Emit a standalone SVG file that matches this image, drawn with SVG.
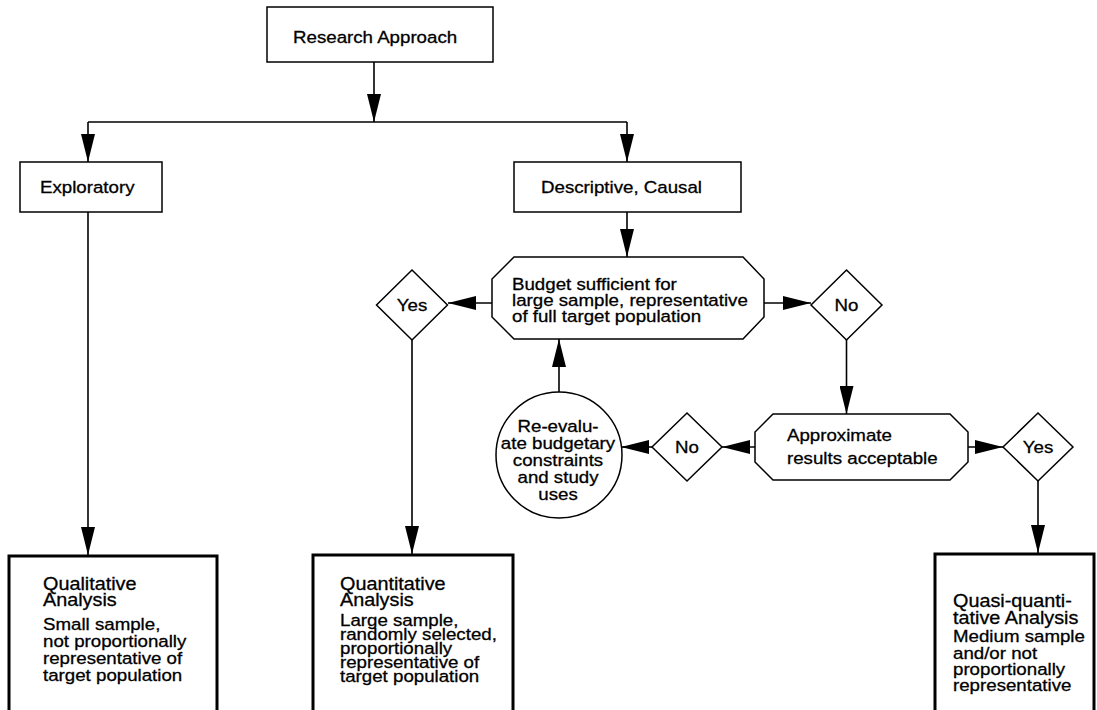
<svg xmlns="http://www.w3.org/2000/svg" width="1097" height="710" viewBox="0 0 1097 710">
<style>
.bg{fill:#fff}
.box{fill:#fff;stroke:#000;stroke-width:1.5}
.res{fill:#fff;stroke:#000;stroke-width:3}
.t{font-family:"Liberation Sans",Arial,Helvetica,sans-serif;font-size:17px;fill:#000;stroke:#000;stroke-width:0.3px}
.h{font-size:18px}
.c{text-anchor:middle}
.ln{fill:none;stroke:#000;stroke-width:1.6}
</style>
<defs>
<marker id="ah" markerUnits="userSpaceOnUse" markerWidth="28" markerHeight="14" viewBox="0 0 28 14" refX="28" refY="7" orient="auto">
<path d="M0,0 L28,7 L0,14 Z" fill="#000"/>
</marker>
</defs>
<rect class="bg" x="0" y="0" width="1097" height="710"/>

<g id="connectors">
<line class="ln" x1="374" y1="62" x2="374" y2="122" marker-end="url(#ah)"/>
<line class="ln" x1="88" y1="122" x2="627" y2="122"/>
<line class="ln" x1="88" y1="122" x2="88" y2="162" marker-end="url(#ah)"/>
<line class="ln" x1="627" y1="122" x2="627" y2="162" marker-end="url(#ah)"/>
<line class="ln" x1="627" y1="212" x2="627" y2="257" marker-end="url(#ah)"/>
<line class="ln" x1="88" y1="212" x2="88" y2="555" marker-end="url(#ah)"/>
<line class="ln" x1="492" y1="303" x2="448" y2="303" marker-end="url(#ah)"/>
<line class="ln" x1="764" y1="303" x2="811" y2="303" marker-end="url(#ah)"/>
<line class="ln" x1="412" y1="339" x2="412" y2="554" marker-end="url(#ah)"/>
<line class="ln" x1="846.5" y1="339" x2="846.5" y2="414" marker-end="url(#ah)"/>
<line class="ln" x1="559" y1="392" x2="559" y2="339" marker-end="url(#ah)"/>
<line class="ln" x1="755" y1="447" x2="722" y2="447" marker-end="url(#ah)"/>
<line class="ln" x1="652" y1="447" x2="621" y2="447" marker-end="url(#ah)"/>
<line class="ln" x1="968" y1="447" x2="1003" y2="447" marker-end="url(#ah)"/>
<line class="ln" x1="1038" y1="481" x2="1038" y2="553" marker-end="url(#ah)"/>
</g>

<g id="research-approach">
<rect class="box" x="267" y="7" width="226" height="55"/>
<g transform="translate(293 0) scale(1.1 1)"><text class="t" x="0" y="43">Research Approach</text></g>
</g>

<g id="exploratory">
<rect class="box" x="20" y="162" width="142" height="50"/>
<g transform="translate(40 0) scale(1.1 1)"><text class="t" x="0" y="193">Exploratory</text></g>
</g>

<g id="descriptive-causal">
<rect class="box" x="514" y="162" width="227" height="50"/>
<g transform="translate(541 0) scale(1.1 1)"><text class="t" x="0" y="193">Descriptive, Causal</text></g>
</g>

<g id="budget-decision">
<polygon class="box" points="514,257 743,257 764,279 764,317 743,339 514,339 492,317 492,279"/>
<g transform="translate(512 0) scale(1.1 1)"><text class="t" x="0" y="290">Budget sufficient for</text><text class="t" x="0" y="306">large sample, representative</text><text class="t" x="0" y="322">of full target population</text></g>
</g>

<g id="yes-1">
<polygon class="box" points="412,270 447.5,305 412,340 376.5,305"/>
<g transform="translate(412 0) scale(1.1 1)"><text class="t c" x="0" y="311">Yes</text></g>
</g>

<g id="no-1">
<polygon class="box" points="846.5,270 882,305 846.5,340 811,305"/>
<g transform="translate(846.5 0) scale(1.1 1)"><text class="t c" x="0" y="311">No</text></g>
</g>

<g id="approx-decision">
<polygon class="box" points="773,414 950,414 968,432 968,462 950,480 773,480 755,462 755,432"/>
<g transform="translate(787 0) scale(1.1 1)"><text class="t" x="0" y="441">Approximate</text><text class="t" x="0" y="464">results acceptable</text></g>
</g>

<g id="no-2">
<polygon class="box" points="687,413 722,447 687,481 652,447"/>
<g transform="translate(687 0) scale(1.1 1)"><text class="t c" x="0" y="453">No</text></g>
</g>

<g id="yes-2">
<polygon class="box" points="1038,413 1073,447 1038,481 1003,447"/>
<g transform="translate(1038 0) scale(1.1 1)"><text class="t c" x="0" y="453">Yes</text></g>
</g>

<g id="re-evaluate">
<circle class="box" cx="559" cy="455" r="63"/>
<g transform="translate(558 0) scale(1.1 1)"><text class="t c" x="0" y="432">Re-evalu-</text><text class="t c" x="0" y="449">ate budgetary</text><text class="t c" x="0" y="466">constraints</text><text class="t c" x="0" y="483">and study</text><text class="t c" x="0" y="500">uses</text></g>
</g>

<g id="qualitative">
<rect class="res" x="9" y="556" width="208" height="160"/>
<g transform="translate(43 0) scale(1.1 1)"><text class="t h" x="0" y="590">Qualitative</text><text class="t h" x="0" y="606">Analysis</text><text class="t" x="0" y="630">Small sample,</text><text class="t" x="0" y="647">not proportionally</text><text class="t" x="0" y="664">representative of</text><text class="t" x="0" y="681">target population</text></g>
</g>

<g id="quantitative">
<rect class="res" x="313" y="555" width="200" height="160"/>
<g transform="translate(340 0) scale(1.1 1)"><text class="t h" x="0" y="590">Quantitative</text><text class="t h" x="0" y="606">Analysis</text><text class="t" x="0" y="626">Large sample,</text><text class="t" x="0" y="640">randomly selected,</text><text class="t" x="0" y="654">proportionally</text><text class="t" x="0" y="668">representative of</text><text class="t" x="0" y="682">target population</text></g>
</g>

<g id="quasi-quantitative">
<rect class="res" x="935" y="554" width="159" height="160"/>
<g transform="translate(953 0) scale(1.1 1)"><text class="t h" x="0" y="607">Quasi-quanti-</text><text class="t h" x="0" y="624">tative Analysis</text><text class="t" x="0" y="642">Medium sample</text><text class="t" x="0" y="659">and/or not</text><text class="t" x="0" y="675">proportionally</text><text class="t" x="0" y="691">representative</text></g>
</g>
</svg>
